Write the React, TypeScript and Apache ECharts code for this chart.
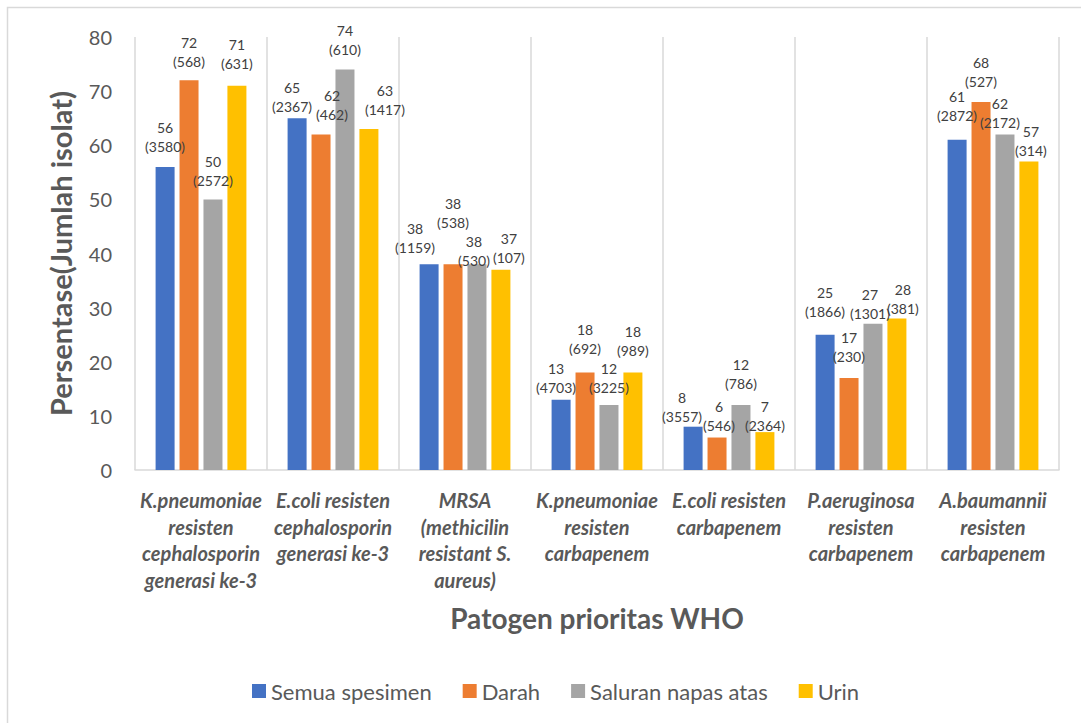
import React, { useEffect, useRef } from "react";
import * as echarts from "echarts";

// Pathogen groups (x categories)
const categories: string[] = [
  "K.pneumoniae\nresisten\ncephalosporin\ngenerasi ke-3",
  "E.coli resisten\ncephalosporin\ngenerasi ke-3",
  "MRSA\n(methicilin\nresistant S.\naureus)",
  "K.pneumoniae\nresisten\ncarbapenem",
  "E.coli resisten\ncarbapenem",
  "P.aeruginosa\nresisten\ncarbapenem",
  "A.baumannii\nresisten\ncarbapenem",
];

const seriesNames: string[] = ["Semua spesimen", "Darah", "Saluran napas atas", "Urin"];

// Resistance percentage per specimen type
const semuaPct: number[] = [56, 65, 38, 13, 8, 25, 61];
const darahPct: number[] = [72, 62, 38, 18, 6, 17, 68];
const saluranPct: number[] = [50, 74, 38, 12, 12, 27, 62];
const urinPct: number[] = [71, 63, 37, 18, 7, 28, 57];

// Number of isolates per specimen type
const semuaN: number[] = [3580, 2367, 1159, 4703, 3557, 1866, 2872];
const darahN: number[] = [568, 462, 538, 692, 546, 230, 527];
const saluranN: number[] = [2572, 610, 530, 3225, 786, 1301, 2172];
const urinN: number[] = [631, 1417, 107, 989, 2364, 381, 314];

const yTicks: number[] = [0, 10, 20, 30, 40, 50, 60, 70, 80];

const colors = ["#4472C4", "#ED7D31", "#A5A5A5", "#FFC000"];

// Hand-placed label nudges [dx, dy] so crowded labels stay readable
const labelNudge: [number, number][][] = [
  [[0, 0], [-5, 8], [-14, 3], [-5, 8], [-11, 10], [0, -3], [0, -4]],
  [[0, 1], [11, 0], [0, -22], [0, -4], [2, 8], [0, -1], [0, 0]],
  [[0, 1], [0, 0], [-3, 16], [0, 2], [0, -2], [-3, 10], [-5, 8]],
  [[0, -2], [16, 0], [8, 8], [0, -2], [0, 13], [6, 10], [2, 9]],
];

const FONT = "Lato, 'Open Sans', sans-serif";

export default function App() {
  const ref = useRef<HTMLDivElement>(null);

  useEffect(() => {
    if (!ref.current) return;
    const chart = echarts.init(ref.current, undefined, { renderer: "svg" });

    const pcts = [semuaPct, darahPct, saluranPct, urinPct];
    const counts = [semuaN, darahN, saluranN, urinN];

    const series = seriesNames.map((name, si) => ({
      name,
      type: "bar" as const,
      barWidth: 19,
      barGap: "26%",
      itemStyle: { color: colors[si] },
      data: pcts[si].map((v, di) => ({
        value: v,
        label: { offset: labelNudge[si][di] },
      })),
      label: {
        show: true,
        position: "top" as const,
        distance: 10.5,
        fontFamily: FONT,
        fontSize: 14,
        lineHeight: 19,
        color: "#404040",
        formatter: (p: any) => `${pcts[si][p.dataIndex]}\n(${counts[si][p.dataIndex]})`,
      },
    }));

    chart.setOption({
      animation: false,
      backgroundColor: "#ffffff",
      textStyle: { fontFamily: FONT },
      grid: { left: 135, right: 22, top: 37, bottom: 253, containLabel: false },
      legend: {
        data: seriesNames,
        left: 247,
        top: 675,
        itemWidth: 14,
        itemHeight: 14,
        itemGap: 31,
        icon: "rect",
        textStyle: { fontFamily: FONT, fontSize: 22, color: "#595959" },
      },
      xAxis: {
        type: "category",
        data: categories,
        name: "Patogen prioritas WHO",
        nameLocation: "middle",
        nameGap: 134,
        nameTextStyle: { fontFamily: FONT, fontSize: 28, fontWeight: "bold", color: "#595959" },
        axisLine: { show: true, lineStyle: { color: "#D9D9D9", width: 1.5 } },
        axisTick: { show: false },
        splitLine: { show: true, lineStyle: { color: "#D9D9D9", width: 1.5 } },
        axisLabel: {
          interval: 0,
          margin: 17,
          fontFamily: FONT,
          fontSize: 20,
          fontWeight: "bold",
          fontStyle: "italic",
          lineHeight: 26.5,
          color: "#595959",
          verticalAlign: "top",
        },
      },
      yAxis: {
        type: "value",
        min: yTicks[0],
        max: yTicks[yTicks.length - 1],
        interval: yTicks[1] - yTicks[0],
        name: "Persentase(Jumlah isolat)",
        nameLocation: "middle",
        nameGap: 60,
        nameRotate: 90,
        nameTextStyle: { fontFamily: FONT, fontSize: 29, fontWeight: "bold", color: "#595959" },
        axisLine: { show: false },
        axisTick: { show: false },
        splitLine: { show: false },
        axisLabel: { margin: 23, fontFamily: FONT, fontSize: 20, color: "#595959" },
      },
      graphic: [
        {
          type: "rect",
          silent: true,
          shape: { x: 7.5, y: 7.5, width: 3000, height: 3000 },
          style: { fill: "none", stroke: "#D9D9D9", lineWidth: 1.5 },
        },
      ],
      series,
    });

    return () => chart.dispose();
  }, []);

  return (
    <div
      ref={ref}
      style={{ position: "absolute", left: 0, top: 0, width: 1081, height: 723 }}
    />
  );
}
